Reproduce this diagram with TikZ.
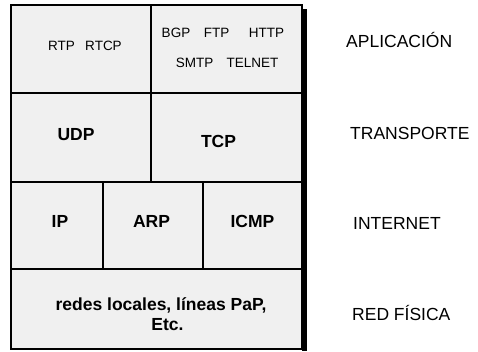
\documentclass[tikz,border=0pt]{standalone}
\usepackage{fontspec}
\setmainfont{Liberation Sans}
\begin{document}
\begin{tikzpicture}[x=1pt,y=-1pt,
  cell/.style={draw=black, line width=1.2pt, fill=black!6, inner sep=0pt},
  small/.style={font=\fontsize{13.5}{15}\selectfont, inner sep=0pt},
  big/.style={font=\fontsize{17.5}{20}\selectfont\bfseries, inner sep=0pt},
  layer/.style={font=\fontsize{17.5}{19}\selectfont, inner sep=0pt, anchor=west}]
\useasboundingbox (0,0) rectangle (478,351);
% shadow
\fill[black] (302,9) rectangle (307,351);
% cells
\node[cell, minimum width=140pt, minimum height=88pt] (app1) at (81,49) {};
\node[cell, minimum width=151pt, minimum height=88pt] (app2) at (226.5,49) {};
\node[cell, minimum width=140pt, minimum height=89pt] (udp) at (81,137.5) {};
\node[cell, minimum width=151pt, minimum height=89pt] (tcp) at (226.5,137.5) {};
\node[cell, minimum width=92pt, minimum height=87pt] (ip) at (57,225.5) {};
\node[cell, minimum width=100pt, minimum height=87pt] (arp) at (153,225.5) {};
\node[cell, minimum width=99pt, minimum height=87pt] (icmp) at (252.5,225.5) {};
\node[cell, minimum width=291pt, minimum height=80pt] (phys) at (156.5,309) {};
% application texts
\node[small] (trtp) at (61.5,46) {RTP};
\node[small] (trtcp) at (103.5,46) {RTCP};
\node[small] (tbgp) at (176,32.5) {BGP};
\node[small] (tftp) at (216.5,32.5) {FTP};
\node[small] (thttp) at (266.5,32.5) {HTTP};
\node[small] (tsmtp) at (194.5,62.5) {SMTP};
\node[small] (ttelnet) at (252.5,62.5) {TELNET};
% protocol texts
\node[big] (tudp) at (76,134.5) {UDP};
\node[big] (ttcp) at (218.5,141.5) {TCP};
\node[big] (tip) at (60,221.5) {IP};
\node[big] (tarp) at (151.5,221.5) {ARP};
\node[big] (ticmp) at (252.5,221.5) {ICMP};
\node[big] (tred1) at (161,305) {redes locales, líneas PaP,};
\node[big] (tred2) at (167.5,325) {Etc.};
% layer names
\node[layer] (lapp) at (346,40) {APLICACIÓN};
\node[layer] (ltra) at (350,133) {TRANSPORTE};
\node[layer] (lint) at (353,223) {INTERNET};
\node[layer] (lred) at (352,313) {RED FÍSICA};
\end{tikzpicture}
\end{document}
